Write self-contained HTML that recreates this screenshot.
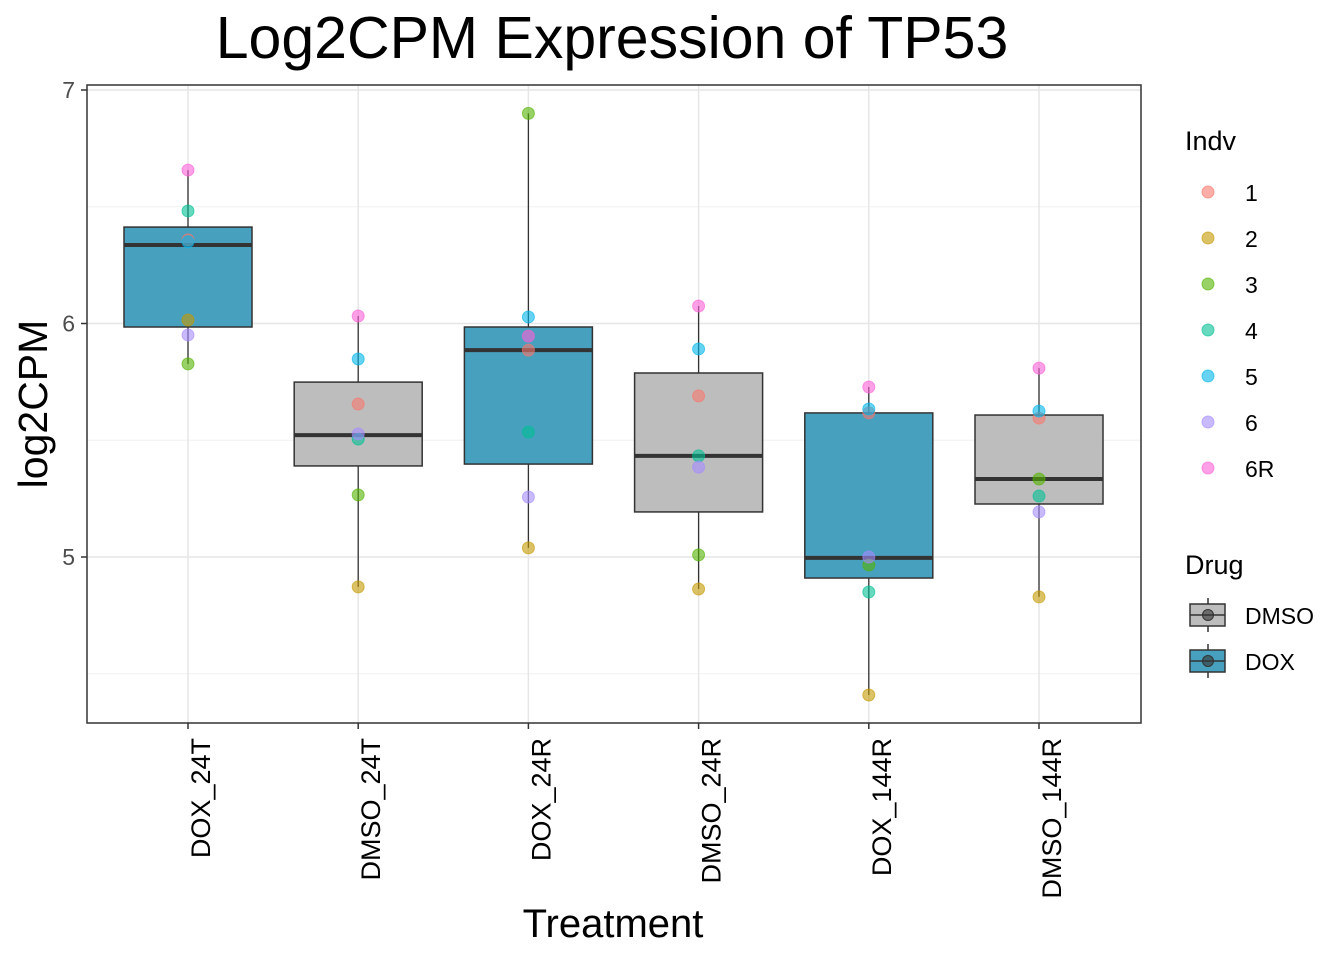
<!DOCTYPE html>
<html><head><meta charset="utf-8"><style>
body{margin:0;background:#fff;}
svg text{font-family:"Liberation Sans",Arial,sans-serif;}
</style></head><body>
<svg id="chart" width="1344" height="960" xmlns="http://www.w3.org/2000/svg">
<rect width="1344" height="960" fill="#fff"/>
<text x="612" y="58" font-size="59" text-anchor="middle">Log2CPM Expression of TP53</text>
<g id="grid"></g>
<g id="boxes"></g>
<g id="points"></g>
<rect x="87" y="85" width="1054" height="638" fill="none" stroke="#333" stroke-width="1.5"/>
<g id="axes"></g>
<text x="613" y="937" font-size="40" text-anchor="middle">Treatment</text>
<text transform="translate(47,404) rotate(-90)" font-size="41" text-anchor="middle">log2CPM</text>
<g id="legend"></g>
</svg>
<script>
const categories=["DOX_24T","DMSO_24T","DOX_24R","DMSO_24R","DOX_144R","DMSO_144R"];
const drugs=["DOX","DMSO","DOX","DMSO","DOX","DMSO"];
const indvs=["1","2","3","4","5","6","6R"];
const indvColors=["#F8766D","#C49A00","#53B400","#00C094","#00B6EB","#A58AFF","#FB61D7"];
// values per category, in indv order 1,2,3,4,5,6,6R
const vals1=[6.358,6.015,5.827,6.482,6.35,5.951,6.657];
const vals2=[5.655,4.872,5.266,5.505,5.848,5.527,6.032];
const vals3=[5.886,5.039,6.90,5.535,6.028,5.257,5.946];
const vals4=[5.690,4.863,5.009,5.433,5.891,5.385,6.075];
const vals5=[5.617,4.409,4.966,4.850,5.634,5.0,5.728];
const vals6=[5.595,4.829,5.334,5.261,5.625,5.193,5.809];
const q1=[5.985,5.390,5.398,5.193,4.910,5.227];
const med=[6.336,5.522,5.886,5.433,4.996,5.334];
const q3=[6.413,5.749,5.985,5.788,5.617,5.608];
const yTicks=[5,6,7];
const yMinor=[4.5,5.5,6.5];
const allVals=[vals1,vals2,vals3,vals4,vals5,vals6];
const drugFill={DMSO:"#BDBDBD",DOX:"#48A0BF"};
const NS="http://www.w3.org/2000/svg";
function y(v){return 90+(7-v)*233.5;}
function x(i){return 188+i*170.2;}
function mk(p,tag,a){const e=document.createElementNS(NS,tag);for(const k in a)e.setAttribute(k,a[k]);document.getElementById(p).appendChild(e);return e;}
yMinor.forEach(v=>{const e=mk("grid","line",{x1:87,x2:1141,y1:y(v),y2:y(v),stroke:"#F0F0F0","stroke-width":1});

});
yTicks.forEach(v=>{const e=mk("grid","line",{x1:87,x2:1141,y1:y(v),y2:y(v),stroke:"#E6E6E6","stroke-width":1.5});


const t=mk("axes","text",{x:75,y:y(v)+8,"font-size":23,"text-anchor":"end",fill:"#4D4D4D"});t.textContent=v;


mk("axes","line",{x1:81,x2:87,y1:y(v),y2:y(v),stroke:"#333","stroke-width":1.5});});
categories.forEach((c,i)=>{const gx=mk("grid","line",{x1:x(i),x2:x(i),y1:85,y2:723,stroke:"#E6E6E6","stroke-width":1.5});


mk("axes","line",{x1:x(i),x2:x(i),y1:723,y2:729,stroke:"#333","stroke-width":1.5});
const t=mk("axes","text",{transform:`translate(${x(i)+22},738) rotate(-90)`,"font-size":27,"text-anchor":"end"});t.textContent=c;


const v=allVals[i],mn=Math.min(...v),mx=Math.max(...v);
const w=mk("boxes","line",{x1:x(i),x2:x(i),y1:y(mx),y2:y(mn),stroke:"#333","stroke-width":1.3});


const b=mk("boxes","rect",{x:x(i)-64,width:128,y:y(q3[i]),height:y(q1[i])-y(q3[i]),fill:drugFill[drugs[i]],stroke:"#333","stroke-width":1.5});


const m=mk("boxes","line",{x1:x(i)-64,x2:x(i)+64,y1:y(med[i]),y2:y(med[i]),stroke:"#333","stroke-width":4});


v.forEach((val,j)=>{const p=mk("points","circle",{cx:x(i),cy:y(val),r:6,fill:indvColors[j],"fill-opacity":0.6,stroke:indvColors[j],"stroke-opacity":0.6});

});});
let t=mk("legend","text",{x:1185,y:150,"font-size":27});t.textContent="Indv";


indvs.forEach((d,j)=>{const yy=192+j*46;
const c=mk("legend","circle",{cx:1208,cy:yy,r:6,fill:indvColors[j],"fill-opacity":0.6,stroke:indvColors[j],"stroke-opacity":0.6});


const l=mk("legend","text",{x:1245,y:yy+9,"font-size":23});l.textContent=d;

});
t=mk("legend","text",{x:1185,y:574,"font-size":27});t.textContent="Drug";


["DMSO","DOX"].forEach((d,j)=>{const yy=615+j*46;
mk("legend","line",{x1:1208,x2:1208,y1:yy-17,y2:yy+17,stroke:"#333","stroke-width":1.5});
const r=mk("legend","rect",{x:1190,y:yy-11,width:35,height:22,fill:drugFill[d],stroke:"#333","stroke-width":1.5});


mk("legend","line",{x1:1190,x2:1225,y1:yy,y2:yy,stroke:"#333","stroke-width":1.5});
mk("legend","circle",{cx:1208,cy:yy,r:5.5,fill:"#333","fill-opacity":0.6,stroke:"#333"});
const l=mk("legend","text",{x:1245,y:yy+9,"font-size":23});l.textContent=d;

});
</script>
</body></html>
